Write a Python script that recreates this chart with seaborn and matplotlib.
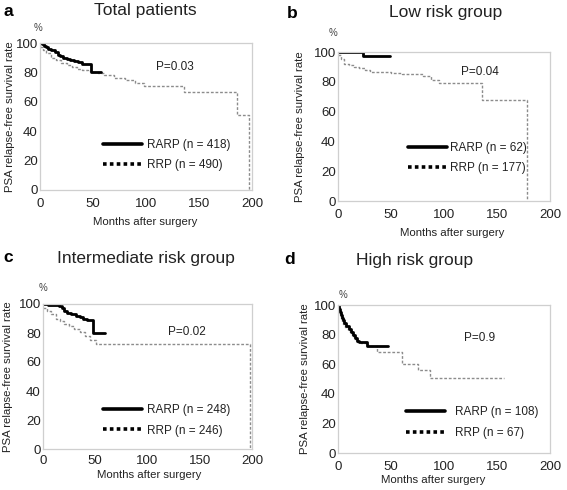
import numpy as np
import pandas as pd
import matplotlib
matplotlib.use("Agg")
import matplotlib.pyplot as plt
import seaborn as sns
from matplotlib.lines import Line2D
from matplotlib.ticker import MultipleLocator

sns.set_style("white")
plt.rcParams['font.family'] = ['Liberation Sans', 'DejaVu Sans']

# ---------------- data ----------------
a_rarp_m = [0, 2, 4, 6, 8, 10, 12, 14, 17, 19, 22, 25, 28, 32, 36, 40, 48, 58]
a_rarp_s = [100, 99, 98, 97, 96, 95.5, 95, 94, 92, 91, 90, 89, 88.5, 88, 87, 86, 80, 80]
a_rrp_m = [0, 3, 6, 10, 15, 20, 25, 30, 35, 40, 45, 50, 55, 60, 70, 80, 90, 98, 136, 186, 197]
a_rrp_s = [97, 95, 93, 90, 88.5, 86.5, 85, 83.5, 82.5, 81.5, 81, 80.5, 79.5, 78.5, 76.5, 74.5, 72.5, 70.5, 67, 51, 0]

b_rarp_m = [0, 24, 49]
b_rarp_s = [100, 97, 97]
b_rrp_m = [0, 3, 6, 10, 15, 20, 25, 30, 40, 50, 60, 70, 80, 88, 95, 136, 178]
b_rrp_s = [98, 95, 92, 91, 90, 89, 88, 86.5, 86.5, 86, 85.5, 85, 84, 81.5, 79, 68, 0]

c_rarp_m = [0, 5, 10, 15, 18, 20, 23, 27, 32, 35, 38, 42, 48, 59]
c_rarp_s = [100, 99.5, 99, 98.5, 97, 95, 94, 93, 92, 91, 90, 89, 80, 80]
c_rrp_m = [0, 4, 8, 12, 16, 20, 25, 30, 35, 40, 45, 51, 198]
c_rrp_s = [97, 95, 93, 90, 88, 86.5, 85, 83, 81, 78, 75, 72.5, 0]

d_rarp_m = [0, 1, 2, 3, 4, 5, 6, 8, 10, 12, 14, 16, 18, 20, 27, 47]
d_rarp_s = [100, 97, 95, 93, 91, 90, 88, 86, 84, 82, 80, 78, 76, 75, 72, 72]
d_rrp_m = [0, 1, 2, 3, 4, 5, 7, 9, 11, 13, 15, 18, 22, 28, 37, 60, 75, 87, 157]
d_rrp_s = [100, 96, 93, 91, 89, 87, 85, 83, 81, 79, 77, 75, 74, 72, 68, 60, 56, 51, 51]

panel_letters = ["a", "b", "c", "d"]
titles = ["Total patients", "Low risk group", "Intermediate risk group", "High risk group"]
rarp_labels = ["RARP (n = 418)", "RARP (n = 62)", "RARP (n = 248)", "RARP (n = 108)"]
rrp_labels = ["RRP (n = 490)", "RRP (n = 177)", "RRP (n = 246)", "RRP (n = 67)"]
p_values = ["P=0.03", "P=0.04", "P=0.02", "P=0.9"]
y_ticks = [0, 20, 40, 60, 80, 100]
x_ticks = [0, 50, 100, 150, 200]

series = [
    (a_rarp_m, a_rarp_s, a_rrp_m, a_rrp_s),
    (b_rarp_m, b_rarp_s, b_rrp_m, b_rrp_s),
    (c_rarp_m, c_rarp_s, c_rrp_m, c_rrp_s),
    (d_rarp_m, d_rarp_s, d_rrp_m, d_rrp_s),
]

# ---------------- layout (pixel-based) ----------------
W, H = 567, 490
fig = plt.figure(figsize=(W / 100, H / 100), dpi=100)

def px_axes(l, r, t, b):
    return fig.add_axes([l / W, 1 - b / H, (r - l) / W, (b - t) / H])

boxes = [(40, 252, 43, 190), (338, 550, 52, 201), (43, 252, 304, 449), (338, 550, 305, 453)]
ylabel_x = [-0.12, -0.156, -0.144, -0.132]
xlabel_pos = [(0.495, -0.187), (0.54, -0.18), (0.51, -0.145), (0.45, -0.152)]
xtick_pad = [4, 4, 2.5, 4]
legend_anchor = [(0.297, 0.238), (0.33, 0.289), (0.287, 0.197), (0.32, 0.206)]
legend_textpad = [0.45, 0.3, 0.45, 0.85]
p_pos = [(0.637, 0.837), (0.67, 0.866), (0.689, 0.807), (0.67, 0.777)]
pct_pos = [(-0.01, 1.10), (-0.025, 1.125), (0.0, 1.11), (0.024, 1.068)]
title_px = [(145, 11), (446, 13), (146, 258), (415, 261)]
letter_px = [(3, 11), (287, 13), (3, 258), (284, 259)]

txt = "#222222"
frame = "#cfcfcf"

for i, (rm, rs, pm, ps) in enumerate(series):
    ax = px_axes(*boxes[i])
    df_rarp = pd.DataFrame({"month": rm, "surv": rs})
    df_rrp = pd.DataFrame({"month": pm, "surv": ps})
    sns.lineplot(data=df_rrp, x="month", y="surv", ax=ax, estimator=None, sort=False,
                 drawstyle="steps-post", color="#8c8c8c", linewidth=1.0,
                 linestyle=(0, (2, 1.3)))
    sns.lineplot(data=df_rarp, x="month", y="surv", ax=ax, estimator=None, sort=False,
                 drawstyle="steps-post", color="black", linewidth=2.0)
    ax.set_xlim(0, 200)
    ax.set_ylim(0, 100)
    ax.set_xticks(x_ticks)
    ax.xaxis.set_minor_locator(MultipleLocator(25))
    ax.set_yticks(y_ticks)
    for s in ax.spines.values():
        s.set_color(frame)
        s.set_linewidth(0.9)
    ax.tick_params(axis="both", which="both", colors=frame, labelcolor=txt,
                   labelsize=9.5, length=3, width=0.8, direction="inout")
    ax.tick_params(axis="y", pad=0)
    ax.tick_params(axis="x", pad=xtick_pad[i])
    ax.set_ylabel("PSA relapse-free survival rate", fontsize=8.2, color=txt)
    ax.yaxis.set_label_coords(ylabel_x[i], 0.5)
    ax.set_xlabel("Months after surgery", fontsize=8.2, color=txt)
    ax.xaxis.set_label_coords(*xlabel_pos[i])
    ax.text(*p_pos[i], p_values[i], transform=ax.transAxes, ha="center", va="center",
            fontsize=8.5, color=txt)
    ax.text(*pct_pos[i], "%", transform=ax.transAxes, ha="center", va="center",
            fontsize=7, color="#444444")
    handles = [Line2D([], [], color="black", linewidth=2.6),
               Line2D([], [], color="black", linewidth=2.6, linestyle=(0, (1, 0.9)))]
    ax.legend(handles, [rarp_labels[i], rrp_labels[i]], loc="center left",
              bbox_to_anchor=legend_anchor[i], frameon=False, fontsize=8.5,
              handlelength=3.3, handletextpad=legend_textpad[i], labelspacing=0.7,
              borderpad=0, borderaxespad=0, labelcolor=txt)
    fig.text(title_px[i][0] / W, 1 - title_px[i][1] / H, titles[i], ha="center",
             va="center", fontsize=12.5, color=txt)
    fig.text(letter_px[i][0] / W, 1 - letter_px[i][1] / H, panel_letters[i], ha="left",
             va="center", fontsize=12.5, fontweight="bold", color="black")

fig.savefig("out.png", dpi=100)
